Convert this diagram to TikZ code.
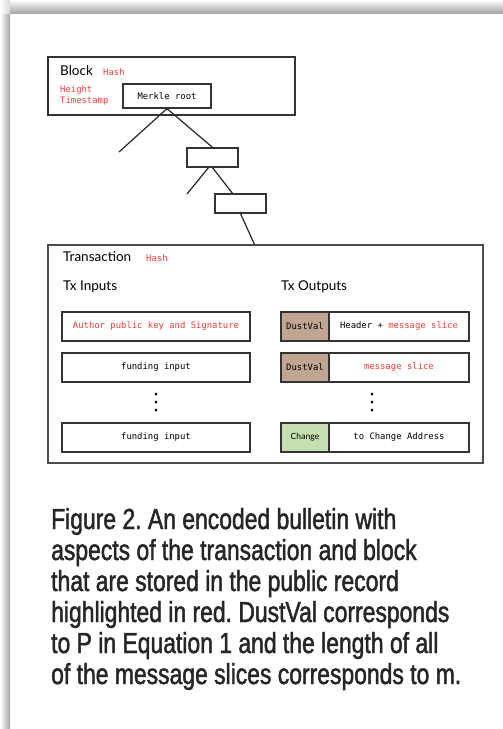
\documentclass[tikz,border=0pt]{standalone}
\usepackage{fontspec}
\setmainfont{Lato}
\setmonofont{DejaVu Sans Mono}
\newfontfamily\captionfont[FakeStretch=0.79,FakeBold=1.6]{Liberation Sans}
\usepackage{xcolor}
\usetikzlibrary{calc}
\definecolor{recred}{RGB}{238,64,54}
\definecolor{dustbrown}{RGB}{192,165,146}
\definecolor{changegreen}{RGB}{197,224,176}
\newcommand{\rd}[1]{\textcolor{recred}{#1}}
\frenchspacing

\begin{document}
\begin{tikzpicture}[x=1pt,y=-1pt,
    frame/.style={draw=black!80,line width=1.2pt,inner sep=0pt},
    cell/.style={frame,font=\ttfamily\fontsize{8.9}{10}\selectfont},
    row/.style={cell,minimum width=188pt,minimum height=29pt},
    lhs/.style={cell,minimum width=48pt,minimum height=29pt},
    rhs/.style={cell,minimum width=140pt,minimum height=29pt},
    title/.style={font=\fontsize{13.5}{15}\selectfont,inner sep=0pt,anchor=west},
    tag/.style={font=\ttfamily\fontsize{8.9}{10}\selectfont,text=recred,inner sep=0pt,anchor=west},
    link/.style={line width=1.2pt,black!85},
    dot/.style={circle,fill=black,inner sep=0pt,minimum size=3pt}
]
% page and its shadow
\useasboundingbox (0,0) rectangle (503,729);
\fill[white] (0,0) rectangle (503,729);
\shade[top color=white,bottom color=black!35] (10,0) rectangle (503,13);
\shade[left color=white,right color=black!35] (0,13) rectangle (10,729);
\shade[left color=white,right color=black!15] (0,0) rectangle (10,13);

% block header
\node[frame,minimum width=247pt,minimum height=58pt] (block) at (171.5,86) {};
\node[title] (blocklbl) at (60,71) {Block};
\node[tag] (blockhash) at (103,72) {Hash};
\node[tag] (height) at (60,90) {Height};
\node[tag] (stamp) at (60,101) {Timestamp};
\node[cell,minimum width=88pt,minimum height=24pt] (merkle) at (167,96) {Merkle root};

% merkle path
\node[frame,minimum width=51pt,minimum height=19pt] (inner1) at (212.5,157.5) {};
\node[frame,minimum width=51pt,minimum height=19pt] (inner2) at (240.5,203.5) {};
\coordinate (leaf1) at (119,152);
\coordinate (leaf2) at (187,194);

% transaction
\node[frame,draw=black!70,minimum width=435pt,minimum height=218pt] (tx) at (265.5,354) {};
\node[title] (txlbl) at (63,257) {Transaction};
\node[tag] (txhash) at (146,258) {Hash};
\node[title] (inlbl) at (63,287) {Tx Inputs};
\node[title] (outlbl) at (281,287) {Tx Outputs};

\draw[link] (merkle.south) -- (leaf1);
\draw[link] (merkle.south) -- (inner1.north);
\draw[link] ([xshift=-4pt]inner1.south) -- (leaf2);
\draw[link] (inner1.south) -- ([xshift=-8pt]inner2.north);
\draw[link] (inner2.south) -- ([xshift=-11pt]tx.north);

% inputs
\node[row,text=recred] (in1) at (156,326.5) {Author public key and Signature};
\node[row] (in2) at (156,367.5) {funding input};
\node[row] (in3) at (156,437.5) {funding input};

% outputs
\node[lhs,fill=dustbrown] (dust1) at (305,326.5) {DustVal};
\node[rhs] (slice1) at (399,326.5) {Header + \rd{message slice}};
\node[lhs,fill=dustbrown] (dust2) at (305,367.5) {DustVal};
\node[rhs] (slice2) at (399,367.5) {\rd{message slice}\hspace{21pt}};
\node[lhs,fill=changegreen,font=\fontsize{8.6}{10}\selectfont] (change) at (305,437.5) {Change};
\node[rhs] (addr) at (399,437.5) {to Change Address\hspace{11pt}};

\foreach \y in {394,402,410} {
  \node[dot] (dl\y) at (156,\y) {};
  \node[dot] (dr\y) at (372,\y) {};
}

% caption
\node[font=\captionfont\fontsize{29}{31}\selectfont,align=left,anchor=base west,
      inner sep=0pt,text=black!85] (caption) at (51,684)
  {Figure 2. An encoded bulletin with\\
   aspects of the transaction and block\\
   that are stored in the public record\\
   highlighted in red. DustVal corresponds\\
   to P in Equation 1 and the length of all\\
   of the message slices corresponds to m.};
\end{tikzpicture}
\end{document}
